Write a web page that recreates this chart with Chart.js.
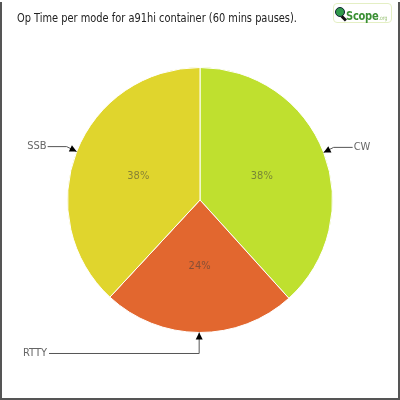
<!DOCTYPE html>
<html>
<head>
<meta charset="utf-8">
<script src="https://cdn.jsdelivr.net/npm/chart.js@4/dist/chart.umd.min.js"></script>
<style>
  html, body { margin: 0; padding: 0; background: #fff; }
  #frame {
    position: relative;
    width: 396px; height: 396px;
    margin-top: 2px;
    border-left: 2px solid #555;
    border-right: 2px solid #555;
    border-bottom: 2px solid #555;
    overflow: hidden;
  }
  #title {
    position: absolute; left: 15px; top: 8px;
    font-family: "DejaVu Sans Condensed", "Liberation Sans", sans-serif;
    font-size: 12.5px; color: #222; white-space: nowrap;
    transform: scaleX(0.875); transform-origin: left top;
  }
  #logo {
    position: absolute; left: 331px; top: 1px;
    width: 57px; height: 18px;
    border: 1px solid #e4efc4; border-radius: 4px;
    font-family: "DejaVu Sans Condensed", "Liberation Sans", sans-serif;
    background: #fff;
  }
  #logo .glass {
    position: absolute; left: 1px; top: 3px;
    width: 8px; height: 8px; border-radius: 50%;
    background: #2f9a4a; border: 1.5px solid #123;
  }
  #logo .handle {
    position: absolute; left: 7px; top: 13px;
    width: 6px; height: 2.5px; background: #111; transform: rotate(45deg);
  }
  #logo .txt {
    position: absolute; left: 12px; top: 1px; white-space: nowrap;
    transform: scaleX(0.85); transform-origin: left top;
  }
  #logo .name { font-size: 13px; font-weight: bold; color: #3a8f34; letter-spacing: -0.3px; }
  #logo .org { font-size: 6px; color: #9cc47a; }
</style>
</head>
<body>
<div id="frame">
  <canvas id="chart" width="396" height="396"></canvas>
  <div id="title">Op Time per mode for a91hi container (60 mins pauses).</div>
  <div id="logo"><div class="glass"></div><div class="handle"></div><div class="txt"><span class="name">Scope</span><span class="org">.org</span></div></div>
</div>
<script>
// pie data
const modes = ['CW', 'RTTY', 'SSB'];
const shares = [38.3, 23.6, 38.1];
const pctLabels = ['38%', '24%', '38%'];
const sliceColors = ['#bfe02f', '#e2672f', '#e0d52d'];

const labelFont = '"DejaVu Sans Condensed", "Liberation Sans", sans-serif';

// draws the % inside each slice and the arrow callouts with mode names
const calloutPlugin = {
    id: 'callouts',
    afterDatasetsDraw(chart) {
        const ctx = chart.ctx;
        const arcs = chart.getDatasetMeta(0).data;
        ctx.save();
        for (let i = 0; i < arcs.length; i++) {
            const a = arcs[i];
            const mid = (a.startAngle + a.endAngle) / 2;
            const r = a.outerRadius;

            // percent text
            ctx.font = '11px ' + labelFont;
            ctx.fillStyle = 'rgba(60, 60, 60, 0.55)';
            ctx.textAlign = 'center';
            ctx.textBaseline = 'middle';
            const pr = r * 0.5;
            ctx.fillText(pctLabels[i], a.x + Math.cos(mid) * pr, a.y + Math.sin(mid) * pr);

            // callout
            const tipX = a.x + Math.cos(mid) * r;
            const tipY = a.y + Math.sin(mid) * r;
            const pts = [[tipX, tipY]];
            let textX, textY, align;
            if (Math.abs(Math.cos(mid)) < 0.3) {
                // bottom slice: go down then left
                const ey = tipY + 21;
                pts.push([tipX, ey]);
                textX = chart.chartArea.left - 20;
                textY = ey;
                pts.push([textX + 2, ey]);
                align = 'right';
            } else {
                const side = Math.cos(mid) > 0 ? 1 : -1;
                const ex = tipX + side * 10;
                const ey = tipY - 5;
                pts.push([ex, ey]);
                textX = tipX + side * 30;
                textY = ey;
                pts.push([textX - side * 1, ey]);
                align = side > 0 ? 'left' : 'right';
            }
            ctx.strokeStyle = '#555';
            ctx.lineWidth = 1;
            ctx.beginPath();
            ctx.moveTo(pts[0][0], pts[0][1]);
            for (let k = 1; k < pts.length; k++) ctx.lineTo(pts[k][0], pts[k][1]);
            ctx.stroke();

            // arrow head at the tip
            const dx = pts[1][0] - tipX, dy = pts[1][1] - tipY;
            const len = Math.hypot(dx, dy);
            const ux = dx / len, uy = dy / len;
            ctx.fillStyle = '#000';
            ctx.beginPath();
            ctx.moveTo(tipX, tipY);
            ctx.lineTo(tipX + ux * 7 - uy * 3.5, tipY + uy * 7 + ux * 3.5);
            ctx.lineTo(tipX + ux * 7 + uy * 3.5, tipY + uy * 7 - ux * 3.5);
            ctx.closePath();
            ctx.fill();

            ctx.font = '11px ' + labelFont;
            ctx.fillStyle = '#666';
            ctx.textAlign = align;
            ctx.textBaseline = 'middle';
            ctx.fillText(modes[i], textX, textY);
        }
        ctx.restore();
    }
};

new Chart(document.getElementById('chart'), {
    type: 'pie',
    data: {
        labels: modes,
        datasets: [{
            data: shares,
            backgroundColor: sliceColors,
            borderColor: '#ffffff',
            borderWidth: 1
        }]
    },
    options: {
        responsive: false,
        animation: false,
        events: [],
        layout: { padding: 65 },
        plugins: {
            legend: { display: false },
            tooltip: { enabled: false },
            title: { display: false }
        }
    },
    plugins: [calloutPlugin]
});
</script>
</body>
</html>
